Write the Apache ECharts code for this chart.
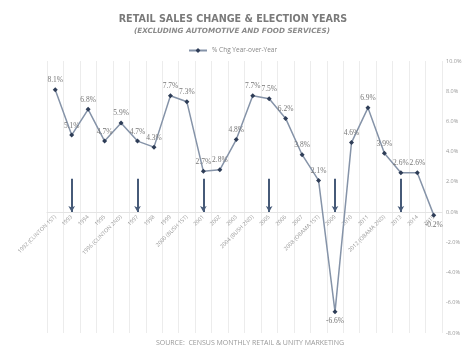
<!DOCTYPE html>
<html>
<head>
<meta charset="utf-8">
<script src="https://cdn.jsdelivr.net/npm/echarts@6/dist/echarts.min.js"></script>
<style>
html,body{margin:0;padding:0;background:#fff;}
#c{width:464px;height:345px;}
</style>
</head>
<body>
<div id="c"></div>
<script>
var categories = ['1992 (CLINTON 1ST)','1993','1994','1995','1996 (CLINTON 2ND)','1997','1998','1999','2000 (BUSH 1ST)','2001','2002','2003','2004 (BUSH 2ND)','2005','2006','2007','2008 (OBAMA 1ST)','2009','2010','2011','2012 (OBAMA 2ND)','2013','2014','2015'];
var pctChange = [8.1,5.1,6.8,4.7,5.9,4.7,4.3,7.7,7.3,2.7,2.8,4.8,7.7,7.5,6.2,3.8,2.1,-6.6,4.6,6.9,3.9,2.6,2.6,-0.2];
var electionArrowYears = ['1993','1997','2001','2005','2009','2013'];
var arrowTop = [2.2,2.2,2.2,2.2,2.2,2.2];
var yMin = -8, yMax = 10, yStep = 2;

var gridTop = 61, gridBottom = 12, H = 345;
var plotH = H - gridTop - gridBottom;
var zeroOffset = -plotH * (0 - yMin) / (yMax - yMin);

var chart = echarts.init(document.getElementById('c'));
chart.setOption({
  animation:false,
  title:[
    {text:'RETAIL SALES CHANGE & ELECTION YEARS', left:228, textAlign:'center', top:9,
     textStyle:{fontFamily:'DejaVu Sans', fontSize:9.6, fontWeight:'bold', color:'#7a7a7a'}},
    {text:'(EXCLUDING AUTOMOTIVE AND FOOD SERVICES)', left:227, textAlign:'center', top:23,
     textStyle:{fontFamily:'DejaVu Sans', fontSize:7.2, fontWeight:'bold', fontStyle:'italic', color:'#8a8a8a'}},
    {text:'SOURCE:  CENSUS MONTHLY RETAIL & UNITY MARKETING', left:245, textAlign:'center', top:334,
     textStyle:{fontFamily:'Open Sans', fontSize:7, fontWeight:'normal', color:'#999'}}
  ],
  legend:{
    top:42, left:183, itemWidth:18, itemHeight:6, itemGap:3,
    textStyle:{fontFamily:'Open Sans', fontSize:6.5, color:'#888'},
    data:['% Chg Year-over-Year']
  },
  grid:{left:47, right:22, top:gridTop, bottom:gridBottom, containLabel:false, outerBoundsMode:'none'},
  xAxis:{
    type:'category', data:categories, boundaryGap:true, position:'bottom', offset:zeroOffset,
    axisLine:{onZero:false, lineStyle:{color:'#e4e4e4'}},
    axisTick:{show:false},
    axisLabel:{rotate:45, interval:0, fontSize:5.5, color:'#999', fontFamily:'Open Sans', margin:4},
    splitLine:{show:true, interval:0, lineStyle:{color:'#ececec'}}
  },
  yAxis:{
    type:'value', position:'right', min:yMin, max:yMax, interval:yStep,
    axisLine:{show:false}, axisTick:{show:false},
    splitLine:{show:false},
    axisLabel:{formatter:function(v){return v.toFixed(1)+'%';}, fontSize:5.5, color:'#999', fontFamily:'Open Sans', margin:4}
  },
  series:[{
    name:'% Chg Year-over-Year', type:'line',
    data:pctChange.map(function(v){return v<0?{value:v,label:{position:'bottom'}}:v;}),
    symbol:'diamond', symbolSize:5,
    lineStyle:{color:'#8593a8', width:1.5},
    itemStyle:{color:'#2e3d57'},
    label:{show:true, formatter:function(p){return p.value.toFixed(1)+'%';},
      position:'top', distance:3, fontSize:7.5, color:'#777', fontFamily:'Liberation Serif'},
    markLine:{
      silent:true, symbol:['none','arrow'], symbolSize:[5,6],
      label:{show:false},
      lineStyle:{color:'#465a78', width:2, type:'solid'},
      data:electionArrowYears.map(function(y,i){return [{coord:[y,arrowTop[i]]},{coord:[y,0]}];})
    }
  }]
});
</script>
</body>
</html>
